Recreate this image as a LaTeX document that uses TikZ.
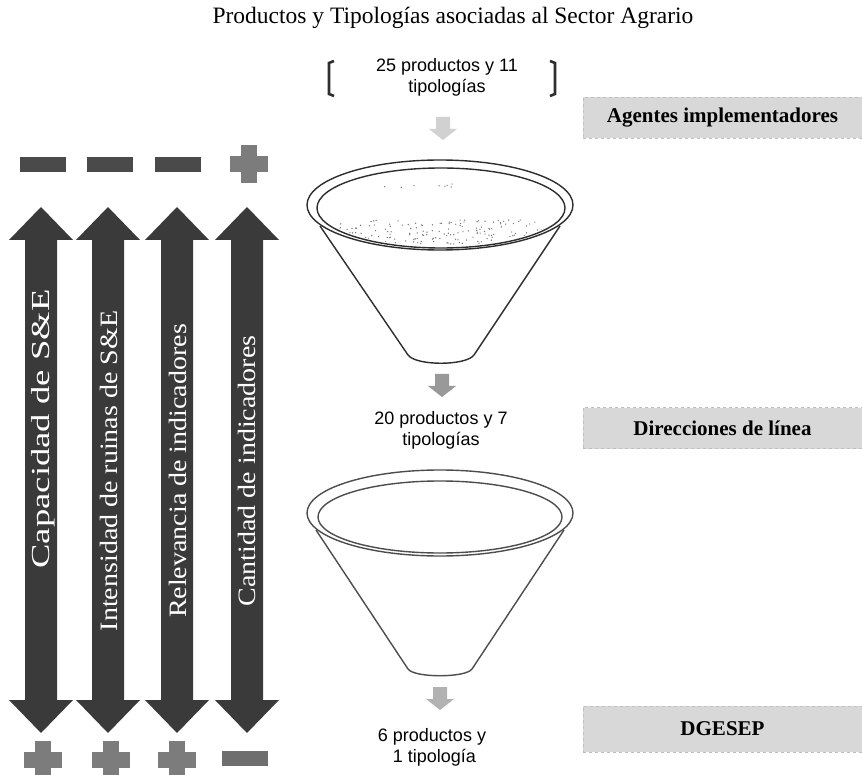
\documentclass[tikz,border=0pt]{standalone}
\usepackage{fontspec}
\setmainfont{Liberation Serif}
\newfontfamily\sansf{Liberation Sans}
\usetikzlibrary{calc}
\definecolor{arrowgray}{HTML}{3A3A3A}
\definecolor{signdark}{HTML}{4A4A4A}
\definecolor{signmid}{HTML}{7C7C7C}
\definecolor{boxgray}{HTML}{D8D8D8}
\definecolor{funnelline}{HTML}{2E2E2E}
\begin{document}
\begin{tikzpicture}[x=1pt,y=-1pt,
  funnel/.style={draw=funnelline, line width=1.4pt},
  dblarrow/.pic={\fill[arrowgray] (0,-263) -- (32,-230) -- (16,-230) -- (16,230) -- (32,230) -- (0,263) -- (-32,230) -- (-16,230) -- (-16,-230) -- (-32,-230) -- cycle;},
  minussign/.pic={\fill[pic actions] (-23,-7.5) rectangle (23,7.5);},
  plussign/.pic={\fill[pic actions] (-8,-19) rectangle (8,19); \fill[pic actions] (-19,-8) rectangle (19,8);},
  downarr/.pic={\fill[pic actions] (-7,-11) -- (7,-11) -- (7,1) -- (14,1) -- (0,12) -- (-14,1) -- (-7,1) -- cycle;},
  arrlabel/.style={rotate=90, text=white, inner sep=0pt, font=\fontsize{25}{28}\selectfont},
  funnellabel/.style={align=center, font=\sansf\fontsize{18}{21}\selectfont},
  levelbox/.style={fill=boxgray, draw=white!75!black, dashed, minimum width=279pt, minimum height=41pt, inner sep=0pt, font=\bfseries\fontsize{21}{24}\selectfont},
]
\useasboundingbox (0,0) rectangle (862,775);
\fill[white] (0,0) rectangle (862,775);

% title
\node[font=\fontsize{23.5}{27}\selectfont] (title) at (453,18) {Productos y Tipologías asociadas al Sector Agrario};

% big double arrows
\pic at (41,470) {dblarrow};
\pic at (108,470) {dblarrow};
\pic at (177,470) {dblarrow};
\pic at (247,470) {dblarrow};
\node[arrlabel, font=\fontsize{26}{29}\selectfont] (l1) at (43,429) {\scalebox{1.41}[1]{Capacidad de S\&E}};
\node[arrlabel] (l2) at (109,471) {\scalebox{1.12}[1]{Intensidad de ruinas de S\&E}};
\node[arrlabel] (l3) at (178,471) {\scalebox{1.12}[1]{Relevancia de indicadores}};
\node[arrlabel] (l4) at (247,471) {\scalebox{1.12}[1]{Cantidad de indicadores}};

% signs top
\pic[fill=signdark] at (43,165) {minussign};
\pic[fill=signdark] at (110,165) {minussign};
\pic[fill=signdark] at (178,165) {minussign};
\pic[fill=signmid] at (249,164) {plussign};
% signs bottom
\pic[fill=signmid] at (43,760) {plussign};
\pic[fill=signmid] at (111,760) {plussign};
\pic[fill=signmid] at (177,760) {plussign};
\pic[fill=signdark!80!white] at (245,758) {minussign};

% top label with brackets
\node[funnellabel] (p25) at (447,77) {25 productos y 11\\tipologías};
\draw[line width=2.6pt, funnelline] (334,61) -- (329,63) -- (329,94) -- (334,96);
\draw[line width=2.6pt, funnelline] (550,61) -- (555,63) -- (555,94) -- (550,96);

\pic[fill=black!18] at (443,128) {downarr};

% funnel 1
\draw[funnel] (440,205) ellipse [x radius=133, y radius=45];
\draw[funnel] (441,208) ellipse [x radius=124, y radius=40];
\draw[funnel] (320,226) -- (408,355) .. controls (416,366) and (466,366) .. (474,355) -- (560,226);
\begin{scope}
  \clip (441,208) ellipse [x radius=122, y radius=38];
  \pgfmathsetseed{7}
  \foreach \i in {1,...,170} {
    \pgfmathsetmacro\px{440+105*rand}
    \pgfmathsetmacro\py{232+12*rand}
    \fill[black!55] (\px,\py) circle (0.7);
  }
  \foreach \i in {1,...,8} {
    \pgfmathsetmacro\px{420+40*rand}
    \pgfmathsetmacro\py{186+2*rand}
    \fill[black!55] (\px,\py) circle (0.7);
  }
\end{scope}

\pic[fill=black!40] at (442,385) {downarr};
\node[funnellabel] (p20) at (441,430) {20 productos y 7\\tipologías};

% funnel 2
\draw[funnel, draw=funnelline!85] (440,513) ellipse [x radius=133, y radius=43];
\draw[funnel, draw=funnelline!85] (440,517) ellipse [x radius=122, y radius=36];
\draw[funnel, draw=funnelline!85] (316,530) -- (408,669) .. controls (414,678) and (466,678) .. (472,669) -- (564,530);

\pic[fill=black!30] at (440,698) {downarr};
\node[funnellabel] (p6) at (432,747) {6 productos y\\\ 1 tipología};

% level boxes
\node[levelbox] (b1) at (722.5,118) {Agentes implementadores};
\node[levelbox] (b2) at (722.5,428) {Direcciones de línea};
\node[levelbox, minimum height=46pt] (b3) at (722.5,729) {DGESEP};
\end{tikzpicture}
\end{document}
